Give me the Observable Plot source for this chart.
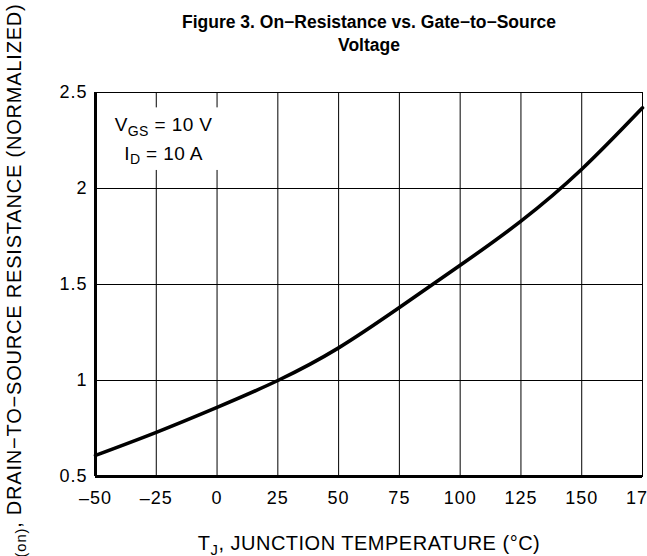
<!DOCTYPE html>
<html>
<head>
<meta charset="utf-8">
<script src="https://cdn.jsdelivr.net/npm/d3@7"></script>
<script src="https://cdn.jsdelivr.net/npm/@observablehq/plot@0.6"></script>
<style>
  html, body { margin: 0; padding: 0; overflow: hidden; background: #fff; width: 647px; height: 556px; }
</style>
</head>
<body>
<div id="chart"></div>
<script>
// Data
const temps = [-50, -25, 0, 25, 50, 75, 100, 125, 150, 175];
const rdsOn = [0.61, 0.73, 0.86, 1.0, 1.17, 1.38, 1.60, 1.83, 2.10, 2.42];
const xTicks = [-50, -25, 0, 25, 50, 75, 100, 125, 150, 175];
const yTicks = [0.5, 1, 1.5, 2, 2.5];
const titleLines = ["Figure 3. On\u2212Resistance vs. Gate\u2212to\u2212Source", "Voltage"];
const xLabel = "TJ, JUNCTION TEMPERATURE (\u00B0C)";
const xLabelSub = "J";
const yLabel = "RDS(on), DRAIN\u2212TO\u2212SOURCE RESISTANCE (NORMALIZED)";
const yLabelSub = "DS(on)";
const annotLines = ["VGS = 10 V", "ID = 10 A"];
const annotSubs = ["GS", "D"];
const annotX = [-22, -22];
const annotY = [2.297, 2.151];
const annotBoxX = [-47, 4];
const annotBoxY = [2.094, 2.42];

const curve = temps.map((t, i) => ({t, r: rdsOn[i]}));
const annot = annotLines.map((s, i) => ({s, x: annotX[i], y: annotY[i]}));
const box = [{x1: annotBoxX[0], x2: annotBoxX[1], y1: annotBoxY[0], y2: annotBoxY[1]}];
const fmtX = d => d < 0 ? "\u2013" + (-d) : String(d);

const svg = Plot.plot({
  width: 647,
  height: 556,
  marginLeft: 95,
  marginRight: 5,
  marginTop: 92,
  marginBottom: 80,
  style: {fontFamily: "'Liberation Sans', Arial, sans-serif", fontSize: "18px", color: "black", background: "white", letterSpacing: "1px"},
  x: {domain: [-50, 175]},
  y: {domain: [0.5, 2.5]},
  marks: [
    Plot.gridX(xTicks, {stroke: "black", strokeOpacity: 1, strokeWidth: 1}),
    Plot.gridY(yTicks, {stroke: "black", strokeOpacity: 1, strokeWidth: 1}),
    Plot.rect(box, {x1: "x1", x2: "x2", y1: "y1", y2: "y2", fill: "white"}),
    Plot.frame({stroke: "black", strokeWidth: 1}),
    Plot.ruleX([-50], {stroke: "black", strokeWidth: 3}),
    Plot.ruleY([0.5], {stroke: "black", strokeWidth: 3}),
    Plot.axisX({ticks: xTicks, tickSize: 0, tickPadding: 15, tickFormat: fmtX, label: null, fontSize: 18}),
    Plot.axisY({ticks: yTicks, tickSize: 0, tickPadding: 8, tickFormat: d => String(d), label: null, fontSize: 18}),
    Plot.line(curve, {x: "t", y: "r", curve: "natural", stroke: "black", strokeWidth: 3.6}),
    Plot.text(annot, {x: "x", y: "y", text: "s", textAnchor: "middle", lineAnchor: "bottom", fontSize: 19, fill: "black", ariaDescription: "annot"}),
    Plot.text([titleLines[0]], {frameAnchor: "top", dy: -65, text: d => d, lineAnchor: "bottom", fontSize: 17.5, fontWeight: "bold", fill: "black", ariaDescription: "title"}),
    Plot.text([titleLines[1]], {frameAnchor: "top", dy: -42, text: d => d, lineAnchor: "bottom", fontSize: 17.5, fontWeight: "bold", fill: "black", ariaDescription: "title"}),
    Plot.text([xLabel], {frameAnchor: "bottom", dy: 73, text: d => d, lineAnchor: "bottom", fontSize: 20, fill: "black", ariaDescription: "xlabel"}),
    Plot.text([yLabel], {frameAnchor: "top-left", dx: -81, dy: -89, text: d => d, rotate: -90, textAnchor: "end", lineAnchor: "middle", fontSize: 20, fill: "black", ariaDescription: "ylabel"})
  ]
});

function subscript(label, subs, fs) {
  d3.select(svg).selectAll(`g[aria-description="${label}"] text`).each(function(d, i) {
    const el = d3.select(this);
    const s = el.text();
    const sub = subs[i];
    const k = s.indexOf(sub, 1);
    if (k < 0) return;
    el.text(null);
    el.append("tspan").text(s.slice(0, k));
    el.append("tspan").attr("font-size", (fs * 0.74) + "px").attr("dy", (fs * 0.26) + "px").text(sub);
    el.append("tspan").attr("dy", (-fs * 0.26) + "px").text(s.slice(k + sub.length));
  });
}
subscript("annot", annotSubs, 19);
subscript("xlabel", [xLabelSub], 20);
subscript("ylabel", [yLabelSub], 20);
d3.select(svg).selectAll('g[aria-description="title"]').style("letter-spacing", "0px");
d3.select(svg).selectAll('g[aria-description="annot"]').style("letter-spacing", "0.4px");
d3.select(svg).selectAll('g[aria-description="xlabel"]').style("letter-spacing", "0.5px");
d3.select(svg).selectAll('g[aria-description="ylabel"]').style("letter-spacing", "0.8px");

document.getElementById("chart").appendChild(svg);
</script>
</body>
</html>
